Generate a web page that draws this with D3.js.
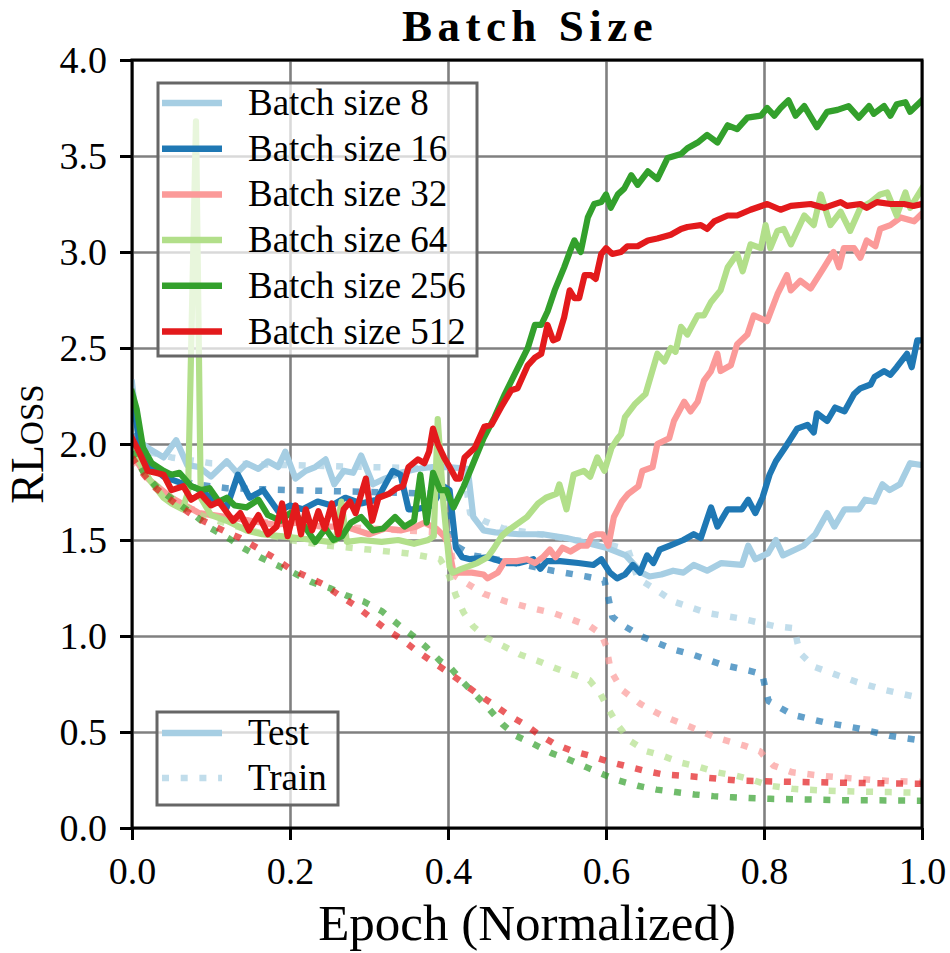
<!DOCTYPE html>
<html>
<head>
<meta charset="utf-8">
<script src="https://d3js.org/d3.v7.min.js"></script>
<style>
  body { margin: 0; background: #fff; }
  text { font-family: "Liberation Serif", "Times New Roman", serif; fill: #000; }
</style>
</head>
<body>
<div id="graphic"></div>
<script>
// values: [epoch, rloss]
var test8 = [[0,2.32],[0.008,2.02],[0.02,1.98],[0.04,1.93],[0.056,2.02],[0.07,1.89],[0.085,1.88],[0.1,1.83],[0.12,1.91],[0.133,1.85],[0.145,1.9],[0.16,1.87],[0.172,1.91],[0.185,1.88],[0.194,1.96],[0.207,1.82],[0.22,1.86],[0.232,1.88],[0.245,1.92],[0.256,1.79],[0.268,1.86],[0.28,1.85],[0.29,1.94],[0.305,1.79],[0.32,1.82],[0.34,1.85],[0.36,1.87],[0.38,1.88],[0.4,1.88],[0.425,1.87],[0.432,1.62],[0.445,1.55],[0.46,1.54],[0.49,1.53],[0.52,1.53],[0.55,1.51],[0.58,1.48],[0.6,1.46],[0.625,1.42],[0.645,1.33],[0.655,1.31],[0.67,1.32],[0.685,1.34],[0.698,1.33],[0.711,1.37],[0.728,1.34],[0.746,1.38],[0.772,1.37],[0.78,1.47],[0.789,1.4],[0.805,1.43],[0.815,1.5],[0.824,1.42],[0.85,1.47],[0.865,1.53],[0.88,1.64],[0.889,1.57],[0.902,1.66],[0.92,1.66],[0.928,1.71],[0.94,1.7],[0.95,1.79],[0.959,1.76],[0.972,1.79],[0.985,1.9],[1,1.89]];
var train8 = [[0,1.98],[0.02,1.96],[0.05,1.93],[0.1,1.9],[0.2,1.89],[0.3,1.88],[0.42,1.87],[0.428,1.64],[0.445,1.6],[0.47,1.56],[0.5,1.54],[0.53,1.52],[0.56,1.5],[0.6,1.48],[0.628,1.45],[0.64,1.3],[0.66,1.25],[0.685,1.18],[0.728,1.12],[0.772,1.09],[0.815,1.05],[0.839,1.04],[0.842,0.97],[0.846,0.91],[0.863,0.84],[0.89,0.8],[0.918,0.76],[0.952,0.72],[1,0.675]];

var test16 = [[0,2.25],[0.01,2.0],[0.023,1.89],[0.04,1.83],[0.06,1.8],[0.082,1.77],[0.1,1.72],[0.12,1.67],[0.134,1.84],[0.149,1.72],[0.166,1.76],[0.185,1.65],[0.2,1.68],[0.216,1.66],[0.235,1.7],[0.253,1.68],[0.27,1.72],[0.29,1.69],[0.31,1.71],[0.33,1.86],[0.34,1.84],[0.35,1.66],[0.36,1.66],[0.38,1.68],[0.394,1.78],[0.402,1.76],[0.41,1.46],[0.418,1.41],[0.428,1.4],[0.45,1.41],[0.474,1.38],[0.49,1.38],[0.508,1.4],[0.517,1.35],[0.525,1.39],[0.542,1.39],[0.565,1.38],[0.584,1.37],[0.594,1.4],[0.605,1.33],[0.614,1.3],[0.624,1.32],[0.634,1.37],[0.643,1.33],[0.652,1.42],[0.66,1.38],[0.668,1.45],[0.68,1.47],[0.698,1.5],[0.711,1.53],[0.72,1.51],[0.733,1.67],[0.741,1.57],[0.754,1.66],[0.772,1.66],[0.78,1.71],[0.789,1.64],[0.798,1.72],[0.807,1.84],[0.815,1.91],[0.828,1.99],[0.842,2.08],[0.855,2.1],[0.863,2.06],[0.867,2.16],[0.88,2.12],[0.89,2.19],[0.902,2.17],[0.914,2.26],[0.922,2.29],[0.935,2.31],[0.94,2.35],[0.952,2.38],[0.96,2.36],[0.968,2.4],[0.981,2.47],[0.987,2.4],[0.994,2.54],[1,2.54]];
var train16 = [[0,2.05],[0.02,1.9],[0.04,1.84],[0.08,1.79],[0.12,1.77],[0.2,1.76],[0.3,1.75],[0.39,1.74],[0.4,1.73],[0.406,1.48],[0.431,1.42],[0.473,1.39],[0.533,1.34],[0.575,1.31],[0.598,1.29],[0.603,1.2],[0.608,1.1],[0.62,1.06],[0.644,1.0],[0.685,0.93],[0.712,0.9],[0.747,0.85],[0.781,0.82],[0.798,0.8],[0.802,0.72],[0.806,0.66],[0.836,0.59],[0.877,0.55],[0.918,0.52],[0.959,0.48],[1,0.455]];

var test32 = [[0,1.95],[0.02,1.82],[0.05,1.72],[0.085,1.64],[0.12,1.62],[0.15,1.6],[0.18,1.58],[0.21,1.59],[0.24,1.57],[0.27,1.57],[0.3,1.53],[0.32,1.56],[0.34,1.55],[0.36,1.57],[0.37,1.59],[0.385,1.56],[0.395,1.52],[0.4,1.48],[0.407,1.33],[0.43,1.33],[0.445,1.32],[0.45,1.3],[0.463,1.33],[0.472,1.39],[0.487,1.39],[0.5,1.4],[0.51,1.38],[0.52,1.41],[0.529,1.45],[0.536,1.41],[0.545,1.46],[0.555,1.44],[0.567,1.47],[0.576,1.47],[0.582,1.52],[0.588,1.53],[0.596,1.53],[0.603,1.47],[0.61,1.62],[0.62,1.7],[0.628,1.74],[0.641,1.78],[0.646,1.86],[0.659,1.88],[0.665,2.0],[0.68,2.03],[0.686,2.12],[0.699,2.22],[0.707,2.17],[0.716,2.22],[0.724,2.33],[0.733,2.38],[0.741,2.47],[0.745,2.38],[0.758,2.41],[0.766,2.52],[0.779,2.57],[0.787,2.67],[0.804,2.64],[0.817,2.78],[0.829,2.88],[0.834,2.8],[0.846,2.85],[0.859,2.81],[0.876,2.92],[0.888,3.0],[0.895,2.92],[0.901,3.02],[0.914,3.02],[0.922,2.97],[0.93,3.06],[0.941,3.03],[0.947,3.12],[0.96,3.14],[0.973,3.18],[0.99,3.16],[1,3.2]];
var train32 = [[0,1.92],[0.03,1.78],[0.06,1.68],[0.1,1.63],[0.15,1.6],[0.2,1.58],[0.3,1.56],[0.39,1.54],[0.4,1.52],[0.41,1.31],[0.445,1.22],[0.473,1.18],[0.511,1.14],[0.533,1.12],[0.554,1.09],[0.58,1.05],[0.594,1.01],[0.6,0.95],[0.606,0.82],[0.62,0.72],[0.644,0.645],[0.671,0.585],[0.705,0.53],[0.74,0.47],[0.774,0.43],[0.795,0.4],[0.801,0.37],[0.812,0.325],[0.836,0.29],[0.877,0.27],[0.918,0.256],[0.959,0.245],[1,0.24]];

var test64 = [[0,2.0],[0.01,1.9],[0.023,1.81],[0.04,1.72],[0.05,1.69],[0.064,1.66],[0.071,1.75],[0.081,3.68],[0.087,1.72],[0.1,1.63],[0.12,1.6],[0.145,1.55],[0.165,1.53],[0.188,1.52],[0.21,1.51],[0.23,1.5],[0.25,1.49],[0.258,1.5],[0.265,1.7],[0.272,1.49],[0.29,1.5],[0.316,1.49],[0.337,1.5],[0.357,1.48],[0.375,1.5],[0.382,1.52],[0.387,2.13],[0.394,1.7],[0.402,1.36],[0.406,1.33],[0.417,1.35],[0.437,1.38],[0.45,1.41],[0.457,1.45],[0.468,1.52],[0.476,1.55],[0.5,1.62],[0.514,1.69],[0.524,1.72],[0.537,1.74],[0.541,1.79],[0.55,1.66],[0.559,1.84],[0.572,1.86],[0.58,1.83],[0.589,1.93],[0.598,1.86],[0.607,1.98],[0.615,2.03],[0.619,2.05],[0.624,2.14],[0.637,2.21],[0.65,2.26],[0.665,2.47],[0.674,2.43],[0.682,2.5],[0.688,2.48],[0.695,2.61],[0.703,2.57],[0.716,2.67],[0.724,2.67],[0.733,2.74],[0.745,2.8],[0.754,2.92],[0.766,2.99],[0.773,2.9],[0.783,3.04],[0.796,3.02],[0.802,3.14],[0.808,3.02],[0.817,3.11],[0.825,3.12],[0.834,3.04],[0.851,3.19],[0.863,3.14],[0.872,3.3],[0.884,3.14],[0.897,3.21],[0.909,3.11],[0.922,3.23],[0.935,3.26],[0.947,3.3],[0.956,3.31],[0.968,3.19],[0.979,3.31],[0.985,3.23],[1,3.33]];
var train64 = [[0,1.95],[0.02,1.82],[0.05,1.72],[0.08,1.64],[0.1,1.61],[0.15,1.55],[0.2,1.5],[0.25,1.47],[0.3,1.45],[0.35,1.43],[0.39,1.4],[0.4,1.33],[0.41,1.21],[0.42,1.12],[0.432,1.05],[0.449,0.99],[0.469,0.95],[0.49,0.905],[0.514,0.87],[0.534,0.835],[0.558,0.8],[0.579,0.77],[0.592,0.705],[0.603,0.62],[0.616,0.53],[0.63,0.455],[0.651,0.4],[0.671,0.377],[0.695,0.34],[0.719,0.317],[0.74,0.29],[0.764,0.273],[0.788,0.247],[0.808,0.22],[0.836,0.204],[0.877,0.195],[0.918,0.19],[0.959,0.187],[1,0.183]];

var test256 = [[0,2.27],[0.006,2.18],[0.014,1.98],[0.025,1.9],[0.04,1.86],[0.05,1.84],[0.06,1.85],[0.075,1.78],[0.088,1.76],[0.098,1.77],[0.11,1.7],[0.12,1.72],[0.13,1.68],[0.145,1.67],[0.16,1.71],[0.172,1.63],[0.188,1.6],[0.2,1.64],[0.21,1.62],[0.222,1.55],[0.232,1.49],[0.245,1.56],[0.255,1.5],[0.266,1.52],[0.277,1.59],[0.29,1.62],[0.305,1.55],[0.318,1.56],[0.333,1.62],[0.345,1.57],[0.357,1.6],[0.365,1.84],[0.373,1.59],[0.381,1.85],[0.39,1.76],[0.398,1.76],[0.407,1.67],[0.42,1.78],[0.433,1.91],[0.445,2.03],[0.459,2.14],[0.472,2.26],[0.484,2.36],[0.501,2.5],[0.51,2.62],[0.518,2.62],[0.526,2.69],[0.535,2.8],[0.547,2.92],[0.556,3.02],[0.56,3.06],[0.568,3.0],[0.577,3.18],[0.585,3.25],[0.594,3.26],[0.6,3.3],[0.606,3.23],[0.615,3.3],[0.623,3.33],[0.632,3.4],[0.64,3.35],[0.653,3.42],[0.665,3.38],[0.678,3.49],[0.695,3.51],[0.703,3.54],[0.716,3.57],[0.728,3.61],[0.741,3.57],[0.754,3.66],[0.766,3.64],[0.779,3.7],[0.796,3.71],[0.804,3.75],[0.813,3.71],[0.821,3.75],[0.831,3.79],[0.84,3.71],[0.851,3.76],[0.867,3.65],[0.88,3.73],[0.893,3.74],[0.907,3.76],[0.92,3.7],[0.933,3.76],[0.939,3.72],[0.952,3.76],[0.96,3.71],[0.968,3.77],[0.979,3.78],[0.985,3.73],[1,3.79]];
var train256 = [[0,1.96],[0.015,1.85],[0.03,1.78],[0.055,1.7],[0.082,1.62],[0.1,1.56],[0.122,1.51],[0.14,1.46],[0.162,1.41],[0.183,1.37],[0.204,1.33],[0.228,1.28],[0.25,1.25],[0.272,1.21],[0.293,1.18],[0.316,1.13],[0.337,1.06],[0.356,1.0],[0.373,0.94],[0.39,0.87],[0.404,0.83],[0.419,0.76],[0.438,0.68],[0.452,0.62],[0.469,0.54],[0.486,0.48],[0.507,0.44],[0.531,0.39],[0.551,0.36],[0.575,0.317],[0.596,0.28],[0.616,0.247],[0.64,0.22],[0.664,0.2],[0.688,0.187],[0.712,0.175],[0.736,0.166],[0.76,0.16],[0.781,0.156],[0.808,0.152],[0.849,0.149],[0.897,0.145],[0.945,0.144],[1,0.142]];

var test512 = [[0,2.03],[0.01,1.95],[0.02,1.86],[0.03,1.85],[0.04,1.84],[0.05,1.76],[0.065,1.78],[0.075,1.71],[0.087,1.74],[0.1,1.68],[0.11,1.7],[0.128,1.6],[0.137,1.64],[0.148,1.55],[0.16,1.63],[0.172,1.53],[0.183,1.57],[0.19,1.69],[0.197,1.52],[0.207,1.68],[0.214,1.53],[0.22,1.66],[0.228,1.55],[0.236,1.65],[0.244,1.56],[0.253,1.69],[0.261,1.53],[0.268,1.66],[0.276,1.7],[0.283,1.64],[0.296,1.82],[0.304,1.6],[0.312,1.72],[0.325,1.74],[0.335,1.77],[0.343,1.78],[0.35,1.88],[0.362,1.92],[0.37,1.9],[0.376,1.96],[0.381,2.08],[0.387,2.0],[0.395,1.93],[0.402,1.88],[0.41,1.82],[0.415,1.82],[0.421,1.93],[0.434,1.98],[0.446,2.09],[0.455,2.1],[0.467,2.19],[0.48,2.28],[0.488,2.29],[0.501,2.41],[0.51,2.45],[0.518,2.47],[0.526,2.62],[0.533,2.54],[0.539,2.55],[0.547,2.66],[0.554,2.8],[0.56,2.76],[0.566,2.76],[0.573,2.88],[0.581,2.88],[0.587,2.86],[0.594,2.99],[0.6,3.02],[0.608,2.99],[0.619,3.0],[0.627,3.03],[0.64,3.03],[0.653,3.06],[0.665,3.07],[0.682,3.09],[0.695,3.12],[0.703,3.13],[0.72,3.14],[0.728,3.12],[0.737,3.16],[0.754,3.19],[0.766,3.19],[0.783,3.22],[0.804,3.25],[0.821,3.22],[0.834,3.24],[0.859,3.25],[0.876,3.23],[0.897,3.26],[0.905,3.24],[0.922,3.25],[0.93,3.23],[0.943,3.26],[0.96,3.25],[0.977,3.25],[0.989,3.24],[1,3.25]];
var train512 = [[0,1.93],[0.015,1.84],[0.03,1.77],[0.055,1.69],[0.08,1.62],[0.1,1.58],[0.12,1.54],[0.137,1.51],[0.158,1.46],[0.179,1.41],[0.2,1.35],[0.221,1.31],[0.242,1.27],[0.263,1.21],[0.282,1.16],[0.301,1.1],[0.32,1.04],[0.339,0.99],[0.358,0.93],[0.377,0.875],[0.397,0.82],[0.414,0.77],[0.435,0.705],[0.455,0.65],[0.476,0.59],[0.497,0.54],[0.514,0.49],[0.534,0.44],[0.558,0.4],[0.579,0.377],[0.603,0.346],[0.623,0.325],[0.647,0.3],[0.671,0.28],[0.695,0.273],[0.719,0.265],[0.743,0.256],[0.767,0.247],[0.791,0.244],[0.842,0.24],[0.884,0.237],[0.932,0.234],[1,0.23]];

var batchNames = ["Batch size 8", "Batch size 16", "Batch size 32", "Batch size 64", "Batch size 256", "Batch size 512"];
var batchColors = ["#a6cee3", "#1f78b4", "#fb9a99", "#b2df8a", "#33a02c", "#e31a1c"];
var testSeries = [test8, test16, test32, test64, test256, test512];
var trainSeries = [train8, train16, train32, train64, train256, train512];
var splitNames = ["Test", "Train"];

var xTicks = [0, 0.2, 0.4, 0.6, 0.8, 1.0];
var yTicks = [0, 0.5, 1.0, 1.5, 2.0, 2.5, 3.0, 3.5, 4.0];

var margin = { top: 60, right: 28, bottom: 125, left: 132 };
var width = 950 - margin.left - margin.right,
    height = 953 - margin.top - margin.bottom;

var svg = d3.select("#graphic").append("svg")
    .attr("width", width + margin.left + margin.right)
    .attr("height", height + margin.top + margin.bottom);

var g = svg.append("g")
    .attr("transform", "translate(" + margin.left + "," + margin.top + ")");

var x = d3.scaleLinear().domain([0, 1]).range([0, width]);
var y = d3.scaleLinear().domain([0, 4]).range([height, 0]);

// grid lines
g.append("g")
    .attr("class", "grid")
    .attr("transform", "translate(0," + height + ")")
    .call(d3.axisBottom(x).tickValues(xTicks).tickSize(-height).tickFormat(""));
g.append("g")
    .attr("class", "grid")
    .call(d3.axisLeft(y).tickValues(yTicks).tickSize(-width).tickFormat(""));
g.selectAll(".grid .domain").remove();
g.selectAll(".grid line").attr("stroke", "#808080").attr("stroke-width", 2.6);

g.append("clipPath").attr("id", "plotclip")
  .append("rect").attr("width", width).attr("height", height);

var line = d3.line()
    .x(function (d) { return x(d[0]); })
    .y(function (d) { return y(d[1]); });

var plot = g.append("g").attr("clip-path", "url(#plotclip)");

batchNames.forEach(function (name, i) {
    plot.append("path")
        .datum(trainSeries[i])
        .attr("d", line)
        .attr("fill", "none")
        .attr("stroke", batchColors[i])
        .attr("stroke-opacity", 0.7)
        .attr("stroke-width", 6.5)
        .attr("stroke-dasharray", "7,11.7")
        .attr("stroke-linejoin", "round");
    plot.append("path")
        .datum(testSeries[i])
        .attr("d", line)
        .attr("fill", "none")
        .attr("stroke", batchColors[i])
        .attr("stroke-width", 6.2)
        .attr("stroke-linejoin", "round")
        .attr("stroke-linecap", "square");
});

// axes
var xAxis = g.append("g")
    .attr("transform", "translate(0," + height + ")")
    .call(d3.axisBottom(x).tickValues(xTicks).tickSize(12).tickPadding(17)
        .tickFormat(d3.format(".1f")));
var yAxis = g.append("g")
    .call(d3.axisLeft(y).tickValues(yTicks).tickSize(12).tickPadding(13)
        .tickFormat(d3.format(".1f")));
[xAxis, yAxis].forEach(function (a) {
    a.select(".domain").remove();
    a.selectAll("line").attr("stroke", "#000").attr("stroke-width", 3);
    a.selectAll("text").attr("font-size", 38)
        .attr("font-family", "Liberation Serif, Times New Roman, serif");
});

g.append("rect")
    .attr("width", width).attr("height", height)
    .attr("fill", "none").attr("stroke", "#000").attr("stroke-width", 3);

// titles
svg.append("text")
    .attr("x", margin.left + width / 2 + 3).attr("y", 41)
    .attr("text-anchor", "middle")
    .attr("font-size", 45).attr("font-weight", "bold")
    .attr("letter-spacing", 5.5)
    .text("Batch Size");

svg.append("text")
    .attr("x", margin.left + width / 2).attr("y", 940)
    .attr("text-anchor", "middle")
    .attr("font-size", 51)
    .text("Epoch (Normalized)");

var ylab = svg.append("text")
    .attr("transform", "translate(43," + (margin.top + height / 2) + ") rotate(-90)")
    .attr("text-anchor", "middle")
    .attr("font-size", 46);
ylab.append("tspan").text("RL");
ylab.append("tspan").attr("font-size", 33).text("OSS");

// legend for batch sizes
var leg = svg.append("g").attr("transform", "translate(158,83)");
leg.append("rect")
    .attr("width", 319).attr("height", 273)
    .attr("fill", "#fff").attr("fill-opacity", 0.7)
    .attr("stroke", "#666").attr("stroke-width", 3);
var rows = leg.selectAll(".row").data(batchNames).enter().append("g")
    .attr("transform", function (d, i) { return "translate(0," + (20 + i * 45.7) + ")"; });
rows.append("line")
    .attr("x1", 4).attr("x2", 64)
    .attr("stroke", function (d, i) { return batchColors[i]; })
    .attr("stroke-width", 6.5);
rows.append("text")
    .attr("x", 90).attr("y", 12)
    .attr("font-size", 37)
    .text(function (d) { return d; });

// legend for test / train
var leg2 = svg.append("g").attr("transform", "translate(157,712)");
leg2.append("rect")
    .attr("width", 181).attr("height", 93)
    .attr("fill", "#fff").attr("fill-opacity", 0.7)
    .attr("stroke", "#666").attr("stroke-width", 3);
var rows2 = leg2.selectAll(".row").data(splitNames).enter().append("g")
    .attr("transform", function (d, i) { return "translate(0," + (21 + i * 45) + ")"; });
rows2.append("line")
    .attr("x1", 5).attr("x2", 65)
    .attr("stroke", batchColors[0])
    .attr("stroke-opacity", function (d, i) { return i ? 0.7 : 1; })
    .attr("stroke-dasharray", function (d, i) { return i ? "7,11.7" : null; })
    .attr("stroke-width", 6.5);
rows2.append("text")
    .attr("x", 91).attr("y", 12)
    .attr("font-size", 37)
    .text(function (d) { return d; });
</script>
</body>
</html>
